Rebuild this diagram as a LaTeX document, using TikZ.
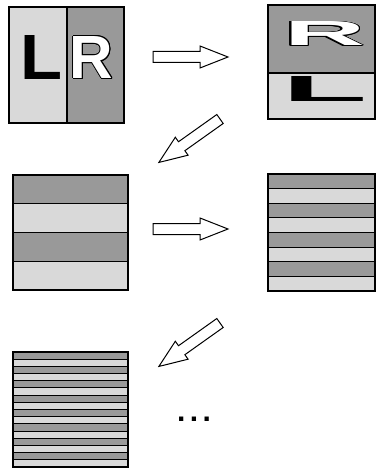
\documentclass[tikz,border=0pt]{standalone}
\usepackage{fontspec}
\usepackage{graphicx}
\usepackage{xcolor}
\usepackage[copies]{contour}
\usepackage{tikz}

\newfontfamily\letterfont{Liberation Sans}[BoldFont={Liberation Sans Bold}]
\definecolor{lightband}{RGB}{217,217,217}
\definecolor{darkband}{RGB}{153,153,153}
\contourlength{0.8pt}

\tikzset{
  light/.style={fill=lightband, draw=black, line width=1.1pt},
  dark/.style={fill=darkband, draw=black, line width=1.1pt},
  blockarrow/.style={draw=black, fill=white, line width=1pt, line join=miter},
  letter/.style={inner sep=0pt, font=\letterfont\bfseries\fontsize{60}{60}\selectfont},
}

\begin{document}
\begin{tikzpicture}[x=1pt, y=-1pt]
\useasboundingbox (0,0) rectangle (376,468);

% left / right halves
\filldraw[light] (9,7) rectangle (67,123);
\filldraw[dark] (67,7) rectangle (124,123);
\node[letter] (L1) at (41,58) {\resizebox{42pt}{44pt}{L}};
\node[letter] (R1) at (91.5,58) {\resizebox{43.5pt}{42pt}{\contour{black}{\textcolor{white}{R}}}};

% stretched and stacked
\filldraw[dark] (268,5) rectangle (375,73);
\filldraw[light] (268,73) rectangle (375,119);
\node[letter] (R2) at (324.5,34) {\resizebox{81pt}{24pt}{\contour{black}{\textcolor{white}{R}}}};
\node[letter] (L2) at (324.5,89.5) {\resizebox{85pt}{25pt}{L}};

% 4 bands
\foreach \i in {0,2} \filldraw[dark] (13,175+\i*28.75) rectangle (128,175+\i*28.75+28.75);
\foreach \i in {1,3} \filldraw[light] (13,175+\i*28.75) rectangle (128,175+\i*28.75+28.75);

% 8 bands
\foreach \i in {0,2,...,6} \filldraw[dark] (268,174+\i*14.625) rectangle (375,174+\i*14.625+14.625);
\foreach \i in {1,3,...,7} \filldraw[light] (268,174+\i*14.625) rectangle (375,174+\i*14.625+14.625);

% 16 bands
\foreach \i in {0,2,...,14} \filldraw[dark] (13,352+\i*7.1875) rectangle (128,352+\i*7.1875+7.1875);
\foreach \i in {1,3,...,15} \filldraw[light] (13,352+\i*7.1875) rectangle (128,352+\i*7.1875+7.1875);

% block arrows
\foreach \px/\py/\ang in {153/57/0, 220/119/215.4, 153/229/0, 220/323/215.4}
  \draw[blockarrow, shift={(\px,\py)}, rotate=\ang]
    (0,5.5) -- (47,5.5) -- (47,11) -- (75,0) -- (47,-11) -- (47,-5.5) -- (0,-5.5) -- cycle;

\node[font=\letterfont\bfseries\fontsize{30}{30}\selectfont, inner sep=0pt] (more) at (194,419)
  {.\hspace{4.4pt}.\hspace{4.4pt}.};
\end{tikzpicture}
\end{document}
